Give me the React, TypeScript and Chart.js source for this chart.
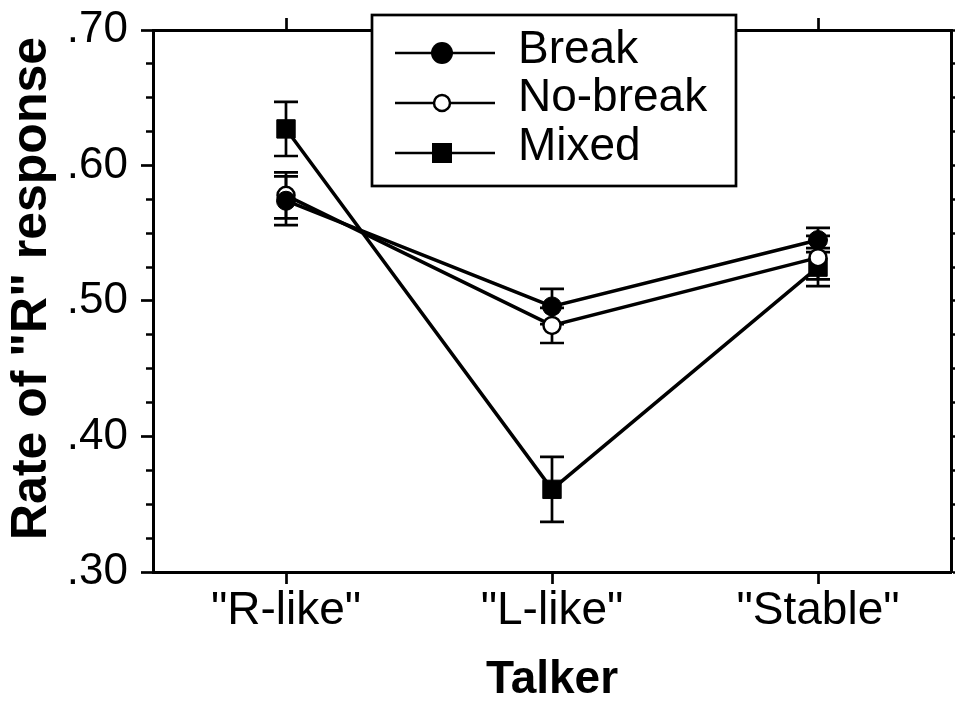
import React, { useEffect, useRef } from "react";
import { Chart, registerables } from "chart.js";

Chart.register(...registerables);

const FONT = '"Liberation Sans", Arial, Helvetica, sans-serif';

const CATEGORIES = ['"R-like"', '"L-like"', '"Stable"'];
const SERIES_NAMES = ["Break", "No-break", "Mixed"];
const BREAK = [0.574, 0.496, 0.545];
const BREAK_ERR = [0.018, 0.013, 0.009];
const NOBREAK = [0.578, 0.482, 0.532];
const NOBREAK_ERR = [0.017, 0.013, 0.016];
const MIXED = [0.627, 0.361, 0.525];
const MIXED_ERR = [0.02, 0.024, 0.014];
const ERRORS = [BREAK_ERR, NOBREAK_ERR, MIXED_ERR];
const Y_MIN = 0.3;
const Y_MAX = 0.7;
const Y_STEP = 0.025;
const X_TITLE = "Talker";
const Y_TITLE = '\u2002Rate of "R" response';

const isMajor = (v: number) => Math.abs(v * 10 - Math.round(v * 10)) < 1e-6;

const zeroPad = (s: any) => {
  s.paddingTop = 0;
  s.paddingBottom = 0;
  s.paddingLeft = 0;
  s.paddingRight = 0;
};

const errorBarPlugin = {
  id: "errorBars",
  beforeDatasetsDraw(chart: any) {
    const ctx = chart.ctx;
    const ys = chart.scales.y;
    ctx.save();
    ctx.strokeStyle = "#000";
    ctx.lineWidth = 2.7;
    chart.data.datasets.forEach((ds: any, i: number) => {
      const meta = chart.getDatasetMeta(i);
      meta.data.forEach((pt: any, j: number) => {
        const v = ds.data[j];
        const e = ERRORS[i][j];
        const x = pt.x;
        const yt = ys.getPixelForValue(v + e);
        const yb = ys.getPixelForValue(v - e);
        const cw = 12;
        ctx.beginPath();
        ctx.moveTo(x, yt);
        ctx.lineTo(x, yb);
        ctx.moveTo(x - cw, yt);
        ctx.lineTo(x + cw, yt);
        ctx.moveTo(x - cw, yb);
        ctx.lineTo(x + cw, yb);
        ctx.stroke();
      });
    });
    ctx.restore();
  },
};

const legendPlugin = {
  id: "boxLegend",
  afterDraw(chart: any) {
    const ctx = chart.ctx;
    const bx = 372, by = 15, bw = 364, bh = 171;
    ctx.save();
    ctx.fillStyle = "#fff";
    ctx.fillRect(bx, by, bw, bh);
    ctx.strokeStyle = "#000";
    ctx.lineWidth = 2.7;
    ctx.strokeRect(bx, by, bw, bh);
    chart.data.datasets.forEach((ds: any, i: number) => {
      const ly = 53 + i * 50;
      ctx.strokeStyle = "#000";
      ctx.lineWidth = 2.5;
      ctx.beginPath();
      ctx.moveTo(395, ly);
      ctx.lineTo(495, ly);
      ctx.stroke();
      const mx = 442;
      ctx.beginPath();
      if (i === 0) {
        ctx.arc(mx, ly, 11, 0, Math.PI * 2);
        ctx.fillStyle = "#000";
        ctx.fill();
      } else if (i === 1) {
        ctx.arc(mx, ly, 8, 0, Math.PI * 2);
        ctx.fillStyle = "#fff";
        ctx.fill();
        ctx.lineWidth = 2.5;
        ctx.stroke();
      } else {
        ctx.fillStyle = "#000";
        ctx.fillRect(mx - 10, ly - 10, 20, 20);
      }
      ctx.fillStyle = "#000";
      ctx.font = `46px ${FONT}`;
      ctx.textAlign = "left";
      ctx.textBaseline = "middle";
      ctx.fillText(ds.label, 518, ly - 3 - i * 1.5);
    });
    ctx.restore();
  },
};

export default function App() {
  const ref = useRef<HTMLCanvasElement | null>(null);

  useEffect(() => {
    if (!ref.current) return;
    Chart.defaults.font.family = FONT;
    Chart.defaults.color = "#000";
    const border = { display: true, color: "#000", width: 3 };
    const chart = new Chart(ref.current, {
      type: "line",
      data: {
        labels: CATEGORIES,
        datasets: [
          {
            label: SERIES_NAMES[0],
            data: BREAK,
            borderColor: "#000",
            borderWidth: 3.5,
            pointStyle: "circle",
            pointRadius: 9.5,
            pointBackgroundColor: "#000",
            pointBorderColor: "#000",
            pointBorderWidth: 1,
            tension: 0,
          },
          {
            label: SERIES_NAMES[1],
            data: NOBREAK,
            borderColor: "#000",
            borderWidth: 3.5,
            pointStyle: "circle",
            pointRadius: 8.5,
            pointBackgroundColor: "#fff",
            pointBorderColor: "#000",
            pointBorderWidth: 2.5,
            tension: 0,
          },
          {
            label: SERIES_NAMES[2],
            data: MIXED,
            borderColor: "#000",
            borderWidth: 3.5,
            pointStyle: "rect",
            pointRadius: 13,
            pointBackgroundColor: "#000",
            pointBorderColor: "#000",
            pointBorderWidth: 1,
            tension: 0,
          },
        ],
      },
      options: {
        responsive: false,
        animation: false,
        devicePixelRatio: 1,
        layout: { padding: 0, autoPadding: false },
        plugins: {
          legend: { display: false },
          tooltip: { enabled: false },
        },
        scales: {
          x: {
            type: "category",
            position: "bottom",
            offset: true,
            border,
            grid: {
              drawOnChartArea: false,
              tickLength: 12,
              tickWidth: 2.7,
              tickColor: "#000",
            },
            ticks: {
              color: "#000",
              font: { family: FONT, size: 46 },
              padding: 0,
              maxRotation: 0,
              autoSkip: false,
            },
            title: {
              display: true,
              text: X_TITLE,
              color: "#000",
              font: { family: FONT, size: 46, weight: "bold" },
              padding: { top: 0, bottom: -7 },
            },
            afterFit: (s: any) => {
              s.height = 129;
              zeroPad(s);
            },
          },
          x2: {
            type: "category",
            position: "top",
            offset: true,
            border,
            grid: {
              drawOnChartArea: false,
              tickLength: 12,
              tickWidth: 2.7,
              tickColor: "#000",
            },
            ticks: { display: false },
            afterFit: (s: any) => {
              s.height = 30;
              zeroPad(s);
            },
          },
          y: {
            type: "linear",
            position: "left",
            min: Y_MIN,
            max: Y_MAX,
            border,
            grid: {
              drawOnChartArea: false,
              tickLength: 12,
              tickWidth: 2.7,
              tickColor: "#000",
              tickBorderDash: (c: any) =>
                c.tick && isMajor(c.tick.value) ? [] : [0, 5, 8, 40],
            },
            ticks: {
              stepSize: Y_STEP,
              autoSkip: false,
              color: "#000",
              font: { family: FONT, size: 44 },
              padding: 13,
              callback: (v: any) =>
                isMajor(Number(v)) ? "." + Math.round(Number(v) * 100) : "",
            },
            title: {
              display: true,
              text: Y_TITLE,
              color: "#000",
              font: { family: FONT, size: 50, weight: "bold" },
              padding: { top: 2, bottom: 0 },
            },
            afterFit: (s: any) => {
              s.width = 153;
              zeroPad(s);
            },
          },
          y2: {
            type: "linear",
            position: "right",
            min: Y_MIN,
            max: Y_MAX,
            border,
            grid: {
              drawOnChartArea: false,
              tickLength: 10,
              tickWidth: 2.7,
              tickColor: "#000",
            },
            ticks: { display: false, stepSize: Y_STEP, autoSkip: false },
            afterFit: (s: any) => {
              s.width = 4;
              zeroPad(s);
            },
          },
        },
      } as any,
      plugins: [errorBarPlugin, legendPlugin],
    });
    return () => chart.destroy();
  }, []);

  return (
    <div
      style={{
        position: "fixed",
        left: 0,
        top: 0,
        width: 955,
        height: 701,
        background: "#fff",
      }}
    >
      <canvas ref={ref} width={955} height={701} style={{ display: "block" }} />
    </div>
  );
}
